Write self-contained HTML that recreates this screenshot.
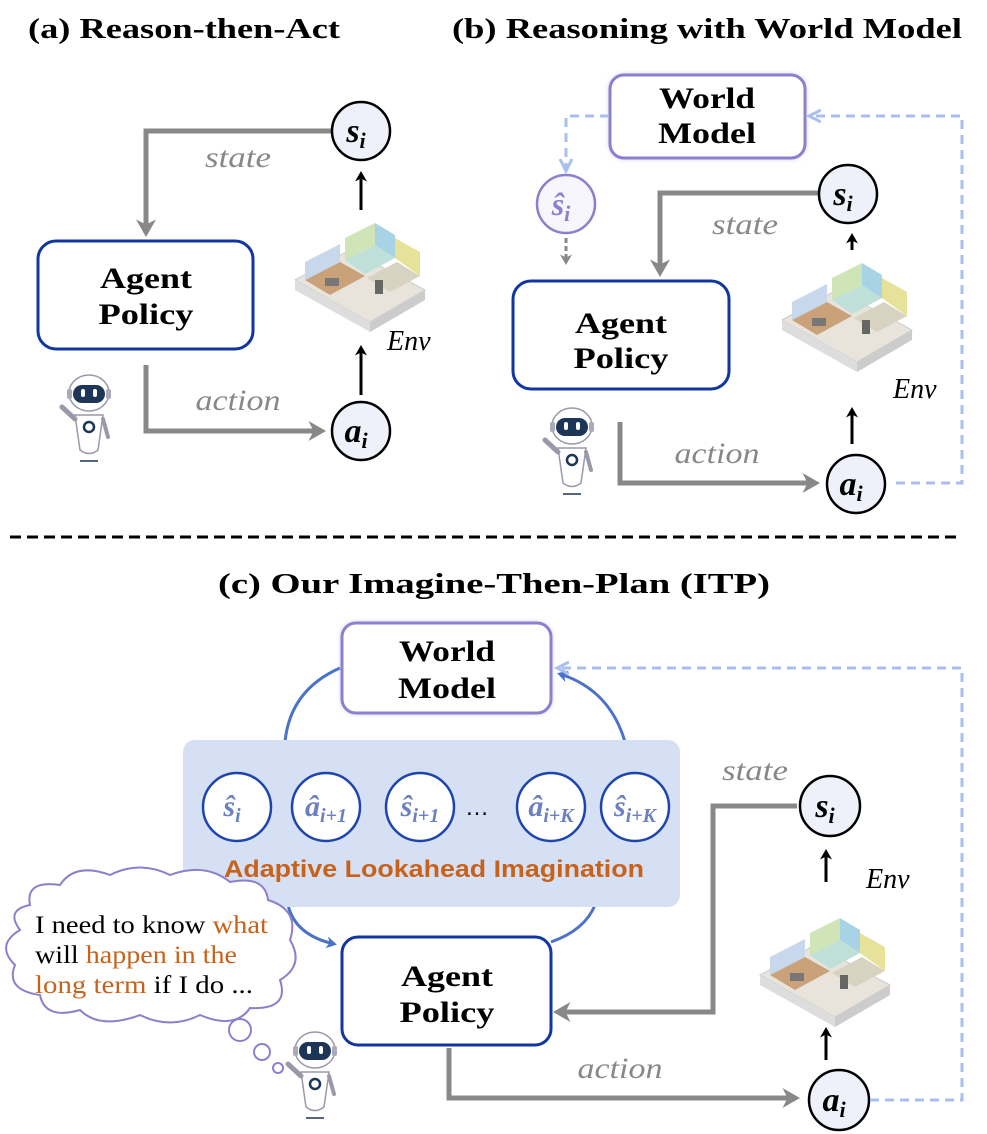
<!DOCTYPE html>
<html><head><meta charset="utf-8"><style>
html,body{margin:0;padding:0;background:#fff}
svg{display:block}
.t{font-family:"Liberation Serif",serif;font-weight:bold}
.lbl{font-family:"Liberation Serif",serif;font-style:italic;fill:#888;font-size:30px}
.m{font-family:"Liberation Serif",serif;font-style:italic;font-weight:bold}
</style></head><body>
<svg width="987" height="1134" viewBox="0 0 987 1134" xmlns="http://www.w3.org/2000/svg">
<defs>
<marker id="ga" markerWidth="4" markerHeight="4" refX="2.5" refY="2" orient="auto"><path d="M0,0 L3.5,2 L0,4 L1,2z" fill="#888"/></marker>
<marker id="ba" markerWidth="4" markerHeight="4" refX="2.5" refY="2" orient="auto"><path d="M0,0 L3.5,2 L0,4 L1,2z" fill="#000"/></marker>
<marker id="la" markerWidth="5" markerHeight="5" refX="3" refY="2.5" orient="auto"><path d="M0,0.5 L4,2.5 L0,4.5" fill="none" stroke="#a9c0ee" stroke-width="1"/></marker>
<marker id="da" markerWidth="4" markerHeight="4" refX="2.5" refY="2" orient="auto"><path d="M0,0 L3.5,2 L0,4 L1,2z" fill="#4a72c8"/></marker>
<filter id="glow" x="-20%" y="-20%" width="140%" height="140%"><feGaussianBlur stdDeviation="3"/></filter>
<g id="house">
<path d="M0,30 L55,0 L130,40 L75,72z" fill="#e8e4dc" stroke="#ccc"/>
<path d="M0,30 L75,72 L75,82 L0,40z" fill="#ddd"/>
<path d="M75,72 L130,40 L130,50 L75,82z" fill="#ccc"/>
<path d="M10,30 L45,12 L70,26 L35,45z" fill="#c9a27a"/>
<path d="M50,10 L80,-5 L100,8 L70,24z" fill="#bfe0d8"/>
<path d="M72,28 L102,12 L125,26 L95,42z" fill="#d8d2c0"/>
<path d="M50,10 L50,-12 L80,-27 L80,-5z" fill="#cfe5b8"/>
<path d="M80,-5 L80,-27 L100,-15 L100,8z" fill="#a8d2e6"/>
<path d="M100,8 L100,-12 L125,2 L125,26z" fill="#e6e29a"/>
<path d="M10,30 L10,12 L45,-6 L45,12z" fill="#c8d8ec"/>
<rect x="30" y="28" width="14" height="8" fill="#777"/>
<rect x="80" y="30" width="8" height="14" fill="#666"/>
</g>
<g id="robot">
<ellipse cx="27" cy="18" rx="20" ry="18" fill="#fff" stroke="#99a" stroke-width="1.5"/>
<rect x="11" y="10" width="32" height="18" rx="9" fill="#1d3557"/>
<rect x="19" y="14" width="4" height="8" rx="2" fill="#fff"/><rect x="31" y="14" width="4" height="8" rx="2" fill="#fff"/>
<rect x="5" y="14" width="5" height="10" rx="2" fill="#aab"/><rect x="44" y="14" width="5" height="10" rx="2" fill="#aab"/>
<path d="M13,40 L41,40 L36,75 Q27,82 18,75z" fill="#fff" stroke="#99a" stroke-width="1.5"/>
<path d="M13,44 L0,32" stroke="#99a" stroke-width="5" stroke-linecap="round"/>
<path d="M41,44 L46,62" stroke="#99a" stroke-width="4" stroke-linecap="round"/>
<circle cx="27" cy="52" r="5" fill="none" stroke="#1d3557" stroke-width="2.5"/>
<line x1="18" y1="86" x2="36" y2="86" stroke="#1d3557" stroke-width="1.5"/>
</g>
</defs>

<!-- (a) -->
<text x="28" y="38" class="t" font-size="28" textLength="312" lengthAdjust="spacingAndGlyphs">(a) Reason-then-Act</text>
<polyline points="331,131 146,131 146,232" fill="none" stroke="#888" stroke-width="5" marker-end="url(#ga)"/>
<text x="238" y="167" class="lbl" text-anchor="middle" textLength="66" lengthAdjust="spacingAndGlyphs">state</text>
<rect x="38" y="241" width="215" height="108" rx="18" fill="#fff" stroke="#1236a0" stroke-width="3"/>
<text x="146" y="288" class="t" font-size="30" text-anchor="middle" textLength="92" lengthAdjust="spacingAndGlyphs">Agent</text>
<text x="146" y="324" class="t" font-size="30" text-anchor="middle" textLength="95" lengthAdjust="spacingAndGlyphs">Policy</text>
<polyline points="146,365 146,431 321,431" fill="none" stroke="#888" stroke-width="5" marker-end="url(#ga)"/>
<text x="238" y="410" class="lbl" text-anchor="middle" textLength="85" lengthAdjust="spacingAndGlyphs">action</text>
<circle cx="361" cy="131" r="29" fill="#eef0fa" stroke="#000" stroke-width="2.5"/>
<text x="356" y="142" class="m" font-size="34" text-anchor="middle">s<tspan font-size="22" dy="6">i</tspan></text>
<circle cx="361" cy="431" r="29" fill="#eef0fa" stroke="#000" stroke-width="2.5"/>
<text x="356" y="442" class="m" font-size="34" text-anchor="middle">a<tspan font-size="22" dy="6">i</tspan></text>
<line x1="361" y1="210" x2="361" y2="174" stroke="#000" stroke-width="3" marker-end="url(#ba)"/>
<line x1="361" y1="395" x2="361" y2="348" stroke="#000" stroke-width="3" marker-end="url(#ba)"/>
<use href="#house" x="295" y="250"/>
<text x="387" y="350" font-family="Liberation Serif" font-style="italic" font-size="28">Env</text>
<use href="#robot" x="62" y="375"/>

<!-- (b) -->
<text x="452" y="38" class="t" font-size="28" textLength="510" lengthAdjust="spacingAndGlyphs">(b) Reasoning with World Model</text>
<rect x="610" y="75" width="195" height="83" rx="14" fill="#b8b0e8" filter="url(#glow)"/>
<rect x="610" y="75" width="195" height="83" rx="14" fill="#fff" stroke="#8a80cc" stroke-width="3"/>
<text x="707" y="108" class="t" font-size="30" text-anchor="middle" textLength="96" lengthAdjust="spacingAndGlyphs">World</text>
<text x="707" y="143" class="t" font-size="30" text-anchor="middle" textLength="98" lengthAdjust="spacingAndGlyphs">Model</text>
<polyline points="609,116 566,116 566,168" fill="none" stroke="#a9c0ee" stroke-width="3" stroke-dasharray="9,6" marker-end="url(#la)"/>
<polyline points="896,483 962,483 962,116 812,116" fill="none" stroke="#a9c0ee" stroke-width="3" stroke-dasharray="9,6" marker-end="url(#la)"/>
<circle cx="566" cy="204" r="29" fill="#f6f6fc" stroke="#8a80cc" stroke-width="2.5"/>
<text x="561" y="215" class="m" font-size="32" fill="#8a80cc" text-anchor="middle">ŝ<tspan font-size="22" dy="6">i</tspan></text>
<line x1="566" y1="238" x2="566" y2="262" stroke="#888" stroke-width="3" stroke-dasharray="5,3" marker-end="url(#ga)"/>
<polyline points="818,193 660,193 660,272" fill="none" stroke="#888" stroke-width="5" marker-end="url(#ga)"/>
<text x="745" y="234" class="lbl" text-anchor="middle" textLength="66" lengthAdjust="spacingAndGlyphs">state</text>
<rect x="513" y="281" width="216" height="108" rx="18" fill="#fff" stroke="#1236a0" stroke-width="3"/>
<text x="621" y="333" class="t" font-size="30" text-anchor="middle" textLength="92" lengthAdjust="spacingAndGlyphs">Agent</text>
<text x="621" y="368" class="t" font-size="30" text-anchor="middle" textLength="95" lengthAdjust="spacingAndGlyphs">Policy</text>
<polyline points="620,422 620,483 815,483" fill="none" stroke="#888" stroke-width="5" marker-end="url(#ga)"/>
<text x="717" y="463" class="lbl" text-anchor="middle" textLength="85" lengthAdjust="spacingAndGlyphs">action</text>
<circle cx="848" cy="194" r="29" fill="#eef0fa" stroke="#000" stroke-width="2.5"/>
<text x="843" y="205" class="m" font-size="34" text-anchor="middle">s<tspan font-size="22" dy="6">i</tspan></text>
<circle cx="856" cy="484" r="29" fill="#eef0fa" stroke="#000" stroke-width="2.5"/>
<text x="851" y="495" class="m" font-size="34" text-anchor="middle">a<tspan font-size="22" dy="6">i</tspan></text>
<line x1="852" y1="250" x2="852" y2="236" stroke="#000" stroke-width="3" marker-end="url(#ba)"/>
<line x1="852" y1="444" x2="852" y2="410" stroke="#000" stroke-width="3" marker-end="url(#ba)"/>
<use href="#house" x="782" y="290"/>
<text x="893" y="398" font-family="Liberation Serif" font-style="italic" font-size="28">Env</text>
<use href="#robot" x="545" y="408"/>

<line x1="10" y1="537" x2="958" y2="537" stroke="#000" stroke-width="3" stroke-dasharray="11,6"/>

<!-- (c) -->
<text x="494" y="593" class="t" font-size="28" text-anchor="middle" textLength="552" lengthAdjust="spacingAndGlyphs">(c) Our Imagine-Then-Plan (ITP)</text>
<path d="M285,742 Q290,690 340,668" fill="none" stroke="#4a72c8" stroke-width="3"/>
<path d="M625,742 Q610,690 560,674" fill="none" stroke="#4a72c8" stroke-width="3" marker-end="url(#da)"/>
<path d="M288,905 Q295,935 334,944" fill="none" stroke="#4a72c8" stroke-width="3" marker-end="url(#da)"/>
<path d="M595,905 Q585,930 551,942" fill="none" stroke="#4a72c8" stroke-width="3"/>
<rect x="342" y="623" width="209" height="90" rx="14" fill="#b8b0e8" filter="url(#glow)"/>
<rect x="342" y="623" width="209" height="90" rx="14" fill="#fff" stroke="#8a80cc" stroke-width="3"/>
<text x="447" y="661" class="t" font-size="30" text-anchor="middle" textLength="96" lengthAdjust="spacingAndGlyphs">World</text>
<text x="447" y="698" class="t" font-size="30" text-anchor="middle" textLength="98" lengthAdjust="spacingAndGlyphs">Model</text>
<rect x="183" y="740" width="497" height="167" rx="12" fill="#d6e0f4"/>
<g stroke="#1e45ad" stroke-width="2.5" fill="#fff">
<circle cx="237" cy="807" r="34"/><circle cx="326" cy="807" r="34"/><circle cx="420" cy="807" r="34"/><circle cx="551" cy="807" r="34"/><circle cx="635" cy="807" r="34"/>
</g>
<g class="m" fill="#6a80c0" font-size="30" text-anchor="middle">
<text x="232" y="816">ŝ<tspan font-size="20" dy="6">i</tspan></text>
<text x="326" y="816">â<tspan font-size="20" dy="6">i+1</tspan></text>
<text x="420" y="816">ŝ<tspan font-size="20" dy="6">i+1</tspan></text>
<text x="551" y="816">â<tspan font-size="20" dy="6">i+K</tspan></text>
<text x="635" y="816">ŝ<tspan font-size="20" dy="6">i+K</tspan></text>
</g>
<text x="477" y="815" font-family="Liberation Sans" font-size="24" text-anchor="middle">…</text>
<text x="434" y="877" font-family="Liberation Sans,sans-serif" font-weight="bold" font-size="24" fill="#c8621a" text-anchor="middle" textLength="420" lengthAdjust="spacingAndGlyphs">Adaptive Lookahead Imagination</text>

<polyline points="797,806 713,806 713,1012 558,1012" fill="none" stroke="#888" stroke-width="5" marker-end="url(#ga)"/>
<text x="755" y="780" class="lbl" text-anchor="middle" textLength="66" lengthAdjust="spacingAndGlyphs">state</text>
<rect x="342" y="937" width="209" height="108" rx="16" fill="#fff" stroke="#1236a0" stroke-width="3"/>
<text x="447" y="986" class="t" font-size="30" text-anchor="middle" textLength="92" lengthAdjust="spacingAndGlyphs">Agent</text>
<text x="447" y="1022" class="t" font-size="30" text-anchor="middle" textLength="95" lengthAdjust="spacingAndGlyphs">Policy</text>
<polyline points="449,1048 449,1098 795,1098" fill="none" stroke="#888" stroke-width="5" marker-end="url(#ga)"/>
<text x="620" y="1078" class="lbl" text-anchor="middle" textLength="85" lengthAdjust="spacingAndGlyphs">action</text>
<circle cx="830" cy="806" r="30" fill="#eef0fa" stroke="#000" stroke-width="2.5"/>
<text x="825" y="817" class="m" font-size="34" text-anchor="middle">s<tspan font-size="22" dy="6">i</tspan></text>
<circle cx="839" cy="1100" r="30" fill="#eef0fa" stroke="#000" stroke-width="2.5"/>
<text x="834" y="1111" class="m" font-size="34" text-anchor="middle">a<tspan font-size="22" dy="6">i</tspan></text>
<line x1="826" y1="882" x2="826" y2="852" stroke="#000" stroke-width="3" marker-end="url(#ba)"/>
<line x1="826" y1="1060" x2="826" y2="1030" stroke="#000" stroke-width="3" marker-end="url(#ba)"/>
<use href="#house" x="760" y="945"/>
<text x="866" y="888" font-family="Liberation Serif" font-style="italic" font-size="28">Env</text>
<polyline points="870,1100 962,1100 962,668 560,668" fill="none" stroke="#a9c0ee" stroke-width="3" stroke-dasharray="9,6" marker-end="url(#la)"/>

<!-- cloud -->
<path d="M30,905 Q25,880 60,885 Q75,862 110,875 Q140,860 170,875 Q205,862 230,882 Q265,875 268,900 Q300,910 290,940 Q305,965 280,980 Q290,1010 250,1008 Q235,1030 200,1015 Q170,1030 140,1015 Q100,1030 80,1010 Q45,1020 40,995 Q5,990 15,965 Q-5,945 20,930 Q5,910 30,905z" fill="#fff" stroke="#8a80cc" stroke-width="2"/>
<circle cx="240" cy="1030" r="11" fill="#fff" stroke="#8a80cc" stroke-width="2"/>
<circle cx="262" cy="1052" r="8" fill="#fff" stroke="#8a80cc" stroke-width="2"/>
<circle cx="278" cy="1068" r="5" fill="#fff" stroke="#8a80cc" stroke-width="2"/>
<g font-family="Liberation Serif,serif" font-size="25">
<text x="35" y="933" textLength="233" lengthAdjust="spacingAndGlyphs">I need to know <tspan fill="#c8621a">what</tspan></text>
<text x="35" y="963" textLength="202" lengthAdjust="spacingAndGlyphs">will <tspan fill="#c8621a">happen in the</tspan></text>
<text x="35" y="993" textLength="218" lengthAdjust="spacingAndGlyphs"><tspan fill="#c8621a">long term</tspan> if I do ...</text>
</g>
<use href="#robot" x="288" y="1032"/>
</svg>
</body></html>
